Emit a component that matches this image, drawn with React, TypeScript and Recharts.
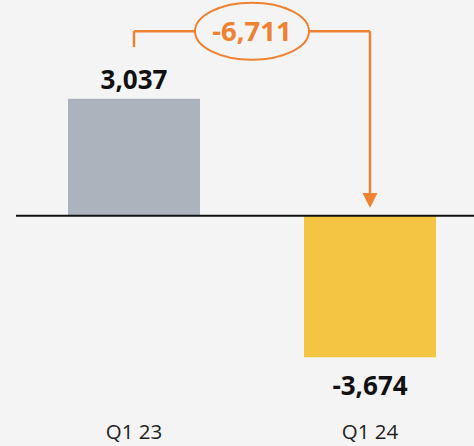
import React from 'react';
import { BarChart, Bar, XAxis, YAxis, Cell, LabelList, ReferenceLine } from 'recharts';

const quarters = ['Q1 23', 'Q1 24'];
const values = [3037, -3674];
const barColors = ['#adb3bd', '#f4c443'];

// bracket levels for the change annotation (data units)
const bracketTop = 4790;
const bracketStub = 4380;
const arrowTip = 200;

const ORANGE = '#ef8133';
const BG = '#f4f4f4';
const FONT = '"Open Sans", "DejaVu Sans", sans-serif';

const data = quarters.map((q, i) => ({ q, value: values[i] }));
const change = values[1] - values[0];

const fmt = (v: number) => (v < 0 ? '-' : '') + Math.abs(v).toLocaleString('en-US');

const ValueLabel = (props: any) => {
    const { x, y, width, height, value } = props;
    const neg = value < 0;
    const cx = x + width / 2;
    const bottom = y + height;
    const ty = neg ? Math.max(y, bottom) + 38 : Math.min(y, bottom) - 10;
    return (
        <text x={cx} y={ty} textAnchor="middle" fontFamily={FONT} fontWeight={700} fontSize={26} fill="#111">
            {fmt(value)}
        </text>
    );
};

const QuarterTick = (props: any) => {
    const { x, y, payload } = props;
    return (
        <text x={x} y={y + 48} textAnchor="middle" fontFamily={FONT} fontSize={20.5} fill="#222">
            {payload.value}
        </text>
    );
};

const ArrowLine = (props: any) => {
    const { x1, y1, x2, y2 } = props;
    return (
        <g>
            <line x1={x1} y1={y1} x2={x2} y2={y2 - 12} stroke={ORANGE} strokeWidth={2.5} />
            <polygon points={`${x2 - 7.5},${y2 - 15} ${x2 + 7.5},${y2 - 15} ${x2},${y2}`} fill={ORANGE} />
        </g>
    );
};

const ChangeBadge = (props: any) => {
    const vb = props.viewBox || {};
    const cx = vb.x + (vb.width || 0) / 2;
    const cy = vb.y + (vb.height || 0) / 2;
    return (
        <g>
            <ellipse cx={cx} cy={cy} rx={57} ry={28.5} fill={BG} stroke={ORANGE} strokeWidth={2} />
            <text x={cx} y={cy + 10} textAnchor="middle" fontFamily={FONT} fontWeight={700} fontSize={27.5} fill={ORANGE}>
                {fmt(change)}
            </text>
        </g>
    );
};

export default function App() {
    return (
        <div style={{ position: 'absolute', left: 0, top: 0, width: 474, height: 446, overflow: 'hidden', background: BG }}>
            <BarChart
                width={488}
                height={446}
                data={data}
                margin={{ top: 0, right: 0, left: 16, bottom: 0 }}
                barCategoryGap={52}
            >
                <XAxis dataKey="q" axisLine={false} tickLine={false} tickSize={0} height={57} tick={<QuarterTick />} interval={0} />
                <YAxis hide domain={[-4500, 5600]} allowDataOverflow />
                <Bar dataKey="value" isAnimationActive={false}>
                    {data.map((d, i) => (
                        <Cell key={d.q} fill={barColors[i]} />
                    ))}
                    <LabelList dataKey="value" content={<ValueLabel />} />
                </Bar>
                <ReferenceLine y={0} stroke="#111" strokeWidth={2} />
                <ReferenceLine
                    segment={[{ x: quarters[0], y: bracketStub }, { x: quarters[0], y: bracketTop }]}
                    stroke={ORANGE}
                    strokeWidth={2.5}
                />
                <ReferenceLine
                    segment={[{ x: quarters[1], y: bracketTop }, { x: quarters[1], y: arrowTip }]}
                    stroke={ORANGE}
                    shape={ArrowLine}
                />
                <ReferenceLine
                    segment={[{ x: quarters[0], y: bracketTop }, { x: quarters[1], y: bracketTop }]}
                    stroke={ORANGE}
                    strokeWidth={2.5}
                    label={(p: any) => <ChangeBadge {...p} />}
                />
            </BarChart>
        </div>
    );
}
